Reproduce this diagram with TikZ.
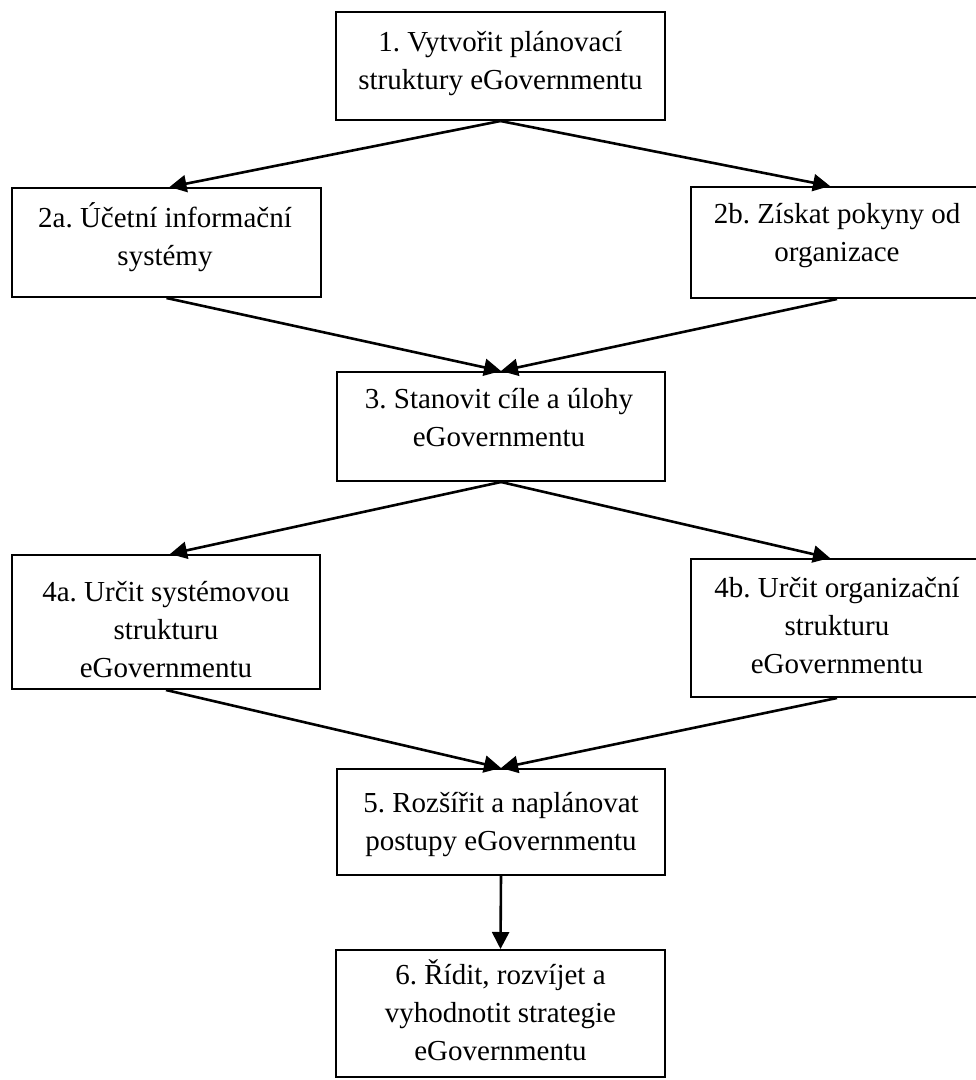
\documentclass[tikz,border=0pt]{standalone}
\usepackage{fontspec}
\setmainfont{Liberation Serif}
\usetikzlibrary{arrows.meta,calc}
\frenchspacing

\begin{document}
\begin{tikzpicture}[x=1pt,y=1pt,
  box/.style={draw=black, line width=2pt, rectangle, inner sep=0pt},
  label/.style={inner sep=0pt, anchor=north, align=center,
    font=\fontsize{29}{38}\selectfont\frenchspacing},
  flow/.style={line width=2.6pt, -{Triangle[length=17pt,width=17pt]}}
]
\useasboundingbox (0,0) rectangle (976,-1080);

% process boxes
\node[box, minimum width=329pt, minimum height=108pt] (b1)  at (500.5,-66)   {};
\node[box, minimum width=309pt, minimum height=109pt] (b2a) at (166.5,-242.5) {};
\node[box, minimum width=292pt, minimum height=111pt] (b2b) at (837,-242.5)  {};
\node[box, minimum width=328pt, minimum height=109pt] (b3)  at (501,-426.5)  {};
\node[box, minimum width=308pt, minimum height=134pt] (b4a) at (166,-622)    {};
\node[box, minimum width=292pt, minimum height=138pt] (b4b) at (837,-628)    {};
\node[box, minimum width=328pt, minimum height=106pt] (b5)  at (501,-822)    {};
\node[box, minimum width=329pt, minimum height=127pt] (b6)  at (500.5,-1013.5) {};

% box texts
\node[label] (t1)  at (500.5,-25) {\strut 1. Vytvořit plánovací\\struktury eGovernmentu};
\node[label] (t2a) at (165,-201)  {\strut 2a. Účetní informační\\systémy};
\node[label] (t2b) at (837,-197)  {\strut 2b. Získat pokyny od\\organizace};
\node[label] (t3)  at (499,-382)  {\strut 3. Stanovit cíle a úlohy\\eGovernmentu};
\node[label] (t4a) at (166,-575)  {\strut 4a. Určit systémovou\\strukturu\\eGovernmentu};
\node[label] (t4b) at (837,-571)  {\strut 4b. Určit organizační\\strukturu\\eGovernmentu};
\node[label] (t5)  at (501,-786)  {\strut 5. Rozšířit a naplánovat\\postupy eGovernmentu};
\node[label] (t6)  at (500.5,-958) {\strut 6. Řídit, rozvíjet a\\vyhodnotit strategie\\eGovernmentu};

% connectors
\draw[flow] (b1.south) -- ([xshift=3pt]b2a.north);
\draw[flow] (b1.south) -- ([xshift=-7pt]b2b.north);
\draw[flow] (b2a.south) -- (b3.north);
\draw[flow] (b2b.south) -- (b3.north);
\draw[flow] (b3.south) -- ([xshift=4pt]b4a.north);
\draw[flow] (b3.south) -- ([xshift=-7pt]b4b.north);
\draw[flow] (b4a.south) -- (b5.north);
\draw[flow] (b4b.south) -- (b5.north);
\draw[flow] (b5.south) -- (b6.north);
\end{tikzpicture}
\end{document}
